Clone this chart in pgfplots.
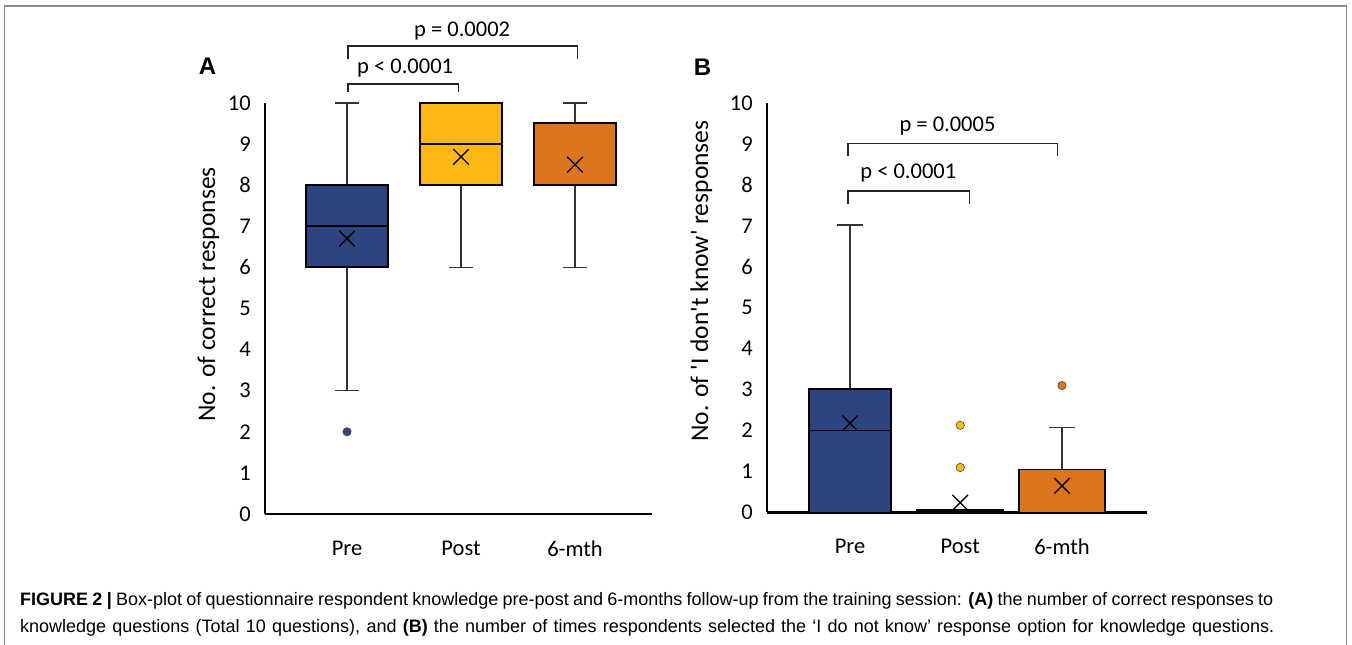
\documentclass[border=0pt]{standalone}
\usepackage{pgfplots}
\pgfplotsset{compat=1.18}
\usepgfplotslibrary{statistics}
\usepackage{fontspec}
\setmainfont{Carlito}
\newfontfamily\capfont{Liberation Sans}
\definecolor{cblue}{HTML}{2D4481}
\definecolor{cyellow}{HTML}{FDB813}
\definecolor{corange}{HTML}{DD751F}
\definecolor{framec}{HTML}{8C8C8C}
\definecolor{wh}{HTML}{333333}
\tikzset{pfont/.style={font=\fontsize{22.5pt}{27pt}\selectfont}}
\pgfplotsset{
  panel/.style={
    scale only axis, anchor=south west, clip=false,
    axis lines=left, axis line style={-},
    x axis line style={line width=2.6pt},
    y axis line style={line width=2pt},
    ymin=0, ymax=10, ytick={0,1,...,10},
    yticklabels={0,1,2,3,4,5,6,7,8,9,10},
    xticklabels={Pre,Post,6-mth},
    major tick length=0pt, tick style={draw=none},
    /pgf/number format/assume math mode=true,
    tick label style={font=\fontsize{22.5pt}{27pt}\selectfont},
    yticklabel style={anchor=east, inner sep=0pt, xshift=-14pt},
    xticklabel style={anchor=north, inner sep=0pt, yshift=-26.5pt},
    boxplot/draw direction=y,
    boxplot/every whisker/.style={draw=wh, line width=1.3pt},
    boxplot/every box/.style={draw=black, line width=1.8pt},
    boxplot/every median/.style={draw=black, line width=1.8pt},
  },
}
\begin{document}
\begin{tikzpicture}[x=1pt,y=1pt]
\useasboundingbox (0,0) rectangle (1352,645);
\draw[framec, line width=1.2pt] (4.7,-5) -- (4.7,639) -- (1346.5,639) -- (1346.5,-5);

% ---------- Panel A ----------
\begin{axis}[panel, at={(265pt,131pt)}, width=387pt, height=411pt,
  xmin=0.2807, xmax=3.675, xtick={1,2,3}]
\addplot[fill=cblue, boxplot prepared={draw position=1, lower whisker=3, lower quartile=6,
  median=7, upper quartile=8, upper whisker=10, box extend=0.72, whisker extend=0.21}] coordinates {};
\addplot[fill=cyellow, boxplot prepared={draw position=2, lower whisker=6, lower quartile=8,
  median=9, upper quartile=10, upper whisker=10, box extend=0.72, whisker extend=0.21}] coordinates {};
\addplot[fill=corange, boxplot prepared={draw position=3, lower whisker=6, lower quartile=8,
  median=8, upper quartile=9.52, upper whisker=10, box extend=0.72, whisker extend=0.21}] coordinates {};
\addplot[only marks, mark=*, mark size=4.2pt, mark options={fill=cblue, draw=black!70, line width=0.6pt}]
  coordinates {(1,2)};
\addplot[only marks, mark=x, mark size=11pt, mark options={draw=black, line width=1.3pt}]
  coordinates {(1,6.70) (2,8.69) (3,8.50)};
\addplot[black!85, line width=1.4pt] coordinates {(1.01,10.27) (1.01,10.46) (1.98,10.46) (1.98,10.27)};
\addplot[black!85, line width=1.4pt] coordinates {(1.01,11.07) (1.01,11.39) (3.02,11.39) (3.02,11.07)};
\node[pfont] at (axis cs:1.51,10.85) {p < 0.0001};
\node[pfont] at (axis cs:2.01,11.74) {p = 0.0002};
\end{axis}

% ---------- Panel B ----------
\begin{axis}[panel, at={(767pt,132.5pt)}, width=380pt, height=409.5pt,
  xmin=0.217, xmax=3.802, xtick={1,2.04,3}]
\addplot[fill=cblue, boxplot prepared={draw position=1, lower whisker=0, lower quartile=0,
  median=2, upper quartile=3.02, upper whisker=7.02, box extend=0.78, whisker extend=0.245}] coordinates {};
\addplot[fill=black, boxplot prepared={draw position=2.04, lower whisker=0, lower quartile=0,
  median=0, upper quartile=0.07, upper whisker=0.07, box extend=0.81, whisker extend=0.245}] coordinates {};
\addplot[fill=corange, boxplot prepared={draw position=3, lower whisker=0, lower quartile=0,
  median=0, upper quartile=1.05, upper whisker=2.08, box extend=0.81, whisker extend=0.245}] coordinates {};
\addplot[only marks, mark=*, mark size=4.2pt, mark options={fill=cyellow, draw=black!70, line width=0.6pt}]
  coordinates {(2.04,1.1) (2.04,2.13)};
\addplot[only marks, mark=*, mark size=4.2pt, mark options={fill=corange, draw=black!70, line width=0.6pt}]
  coordinates {(3,3.1)};
\addplot[only marks, mark=x, mark size=11pt, mark options={draw=black, line width=1.3pt}]
  coordinates {(1,2.18) (2.04,0.24) (3,0.65)};
\addplot[black!85, line width=1.4pt] coordinates {(0.98,7.53) (0.98,7.85) (2.13,7.85) (2.13,7.53)};
\addplot[black!85, line width=1.4pt] coordinates {(0.98,8.71) (0.98,9.01) (2.96,9.01) (2.96,8.71)};
\node[pfont] at (axis cs:1.55,8.29) {p < 0.0001};
\node[pfont] at (axis cs:1.92,9.45) {p = 0.0005};
\end{axis}

% labels
\node[rotate=90, anchor=base, font=\fontsize{25.5pt}{30pt}\selectfont] at (215,350.5) {No. of correct responses};
\node[rotate=90, anchor=base, font=\fontsize{25.5pt}{30pt}\selectfont] at (708,364) {No. of \textquotesingle I don\textquotesingle t know\textquotesingle{} responses};
\node[font=\capfont\bfseries\fontsize{24pt}{28pt}\selectfont] at (207.5,578.5) {A};
\node[font=\capfont\bfseries\fontsize{24pt}{28pt}\selectfont] at (702.5,577.5) {B};

% caption
\node[anchor=base west, inner sep=0pt, font=\capfont\fontsize{18pt}{20pt}\selectfont] at (20,39)
 {\makebox[1253pt][s]{\textbf{FIGURE 2 |} Box-plot of questionnaire respondent knowledge pre-post and 6-months follow-up from the training session: \textbf{(A)} the number of correct responses to}};
\node[anchor=base west, inner sep=0pt, font=\capfont\fontsize{18pt}{20pt}\selectfont] at (20,12)
 {\makebox[1254pt][s]{knowledge questions (Total 10 questions), and \textbf{(B)} the number of times respondents selected the ‘I do not know’ response option for knowledge questions.}};
\end{tikzpicture}
\end{document}
